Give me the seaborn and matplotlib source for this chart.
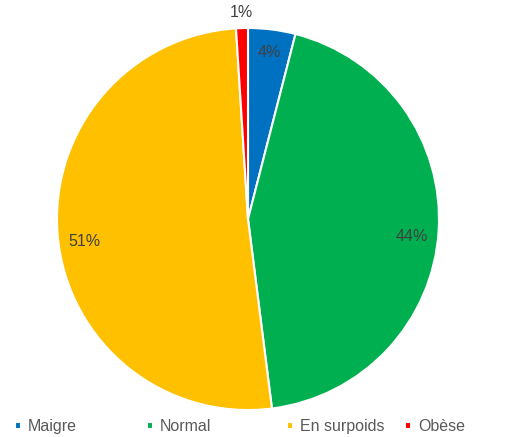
import numpy as np
import matplotlib
matplotlib.use("Agg")
import matplotlib.pyplot as plt
import seaborn as sns

# data
categories = ["Maigre", "Normal", "En surpoids", "Obèse"]
shares = [4, 44, 51, 1]
colors = ["#0070C0", "#00B050", "#FFC000", "#FF0000"]

sns.set_theme(style="white")
plt.rcParams['font.family'] = ['Liberation Sans', 'DejaVu Sans']

fig = plt.figure(figsize=(5.22, 4.37), dpi=100)
ax = fig.add_axes([0, 0, 1, 1])

cx, cy, r = 248, 437 - 219, 191
wedges, _ = ax.pie(shares, colors=colors, startangle=90, counterclock=False,
                   center=(cx, cy), radius=r, frame=True,
                   wedgeprops=dict(edgecolor="white", linewidth=1.5))
ax.set_xlim(0, 522)
ax.set_ylim(0, 437)
ax.set_aspect("equal")
ax.axis("off")

# percentage labels (1% sits outside the pie)
for w, s in zip(wedges, shares):
    ang = np.deg2rad((w.theta1 + w.theta2) / 2)
    if s < 2:
        d, dy = 1.08, 0
    elif s < 10:
        d, dy = 0.88, 0
    else:
        d, dy = 0.86, -7
    ax.text(cx + d * r * np.cos(ang), cy + d * r * np.sin(ang) + dy, f"{s}%",
            ha="center", va="center", fontsize=11.5, color="#404040")

# legend entries along the bottom, spaced like the original
legend_x = [0.026, 0.279, 0.547, 0.773]
for w, name, lx in zip(wedges, categories, legend_x):
    fig.legend([w], [name], loc="lower left", bbox_to_anchor=(lx, 0.003),
               frameon=False, fontsize=11.5, labelcolor="#595959",
               handlelength=0.35, handleheight=0.35, handletextpad=0.45,
               borderaxespad=0.0, borderpad=0.1)

fig.savefig("out.png", dpi=100)
